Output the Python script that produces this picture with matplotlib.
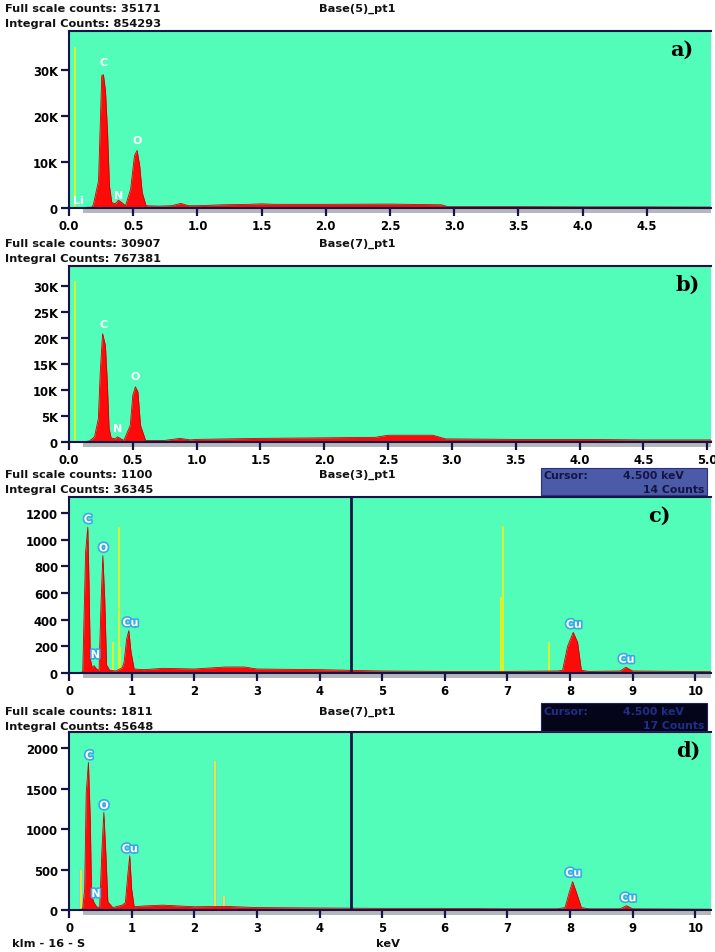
import matplotlib
matplotlib.use("Agg")
import matplotlib.pyplot as plt
import matplotlib.patheffects as pe
from matplotlib.patches import Rectangle

# ---------------------------------------------------------------------------
# DATA
# ---------------------------------------------------------------------------

a_kev = [0.0, 0.10, 0.18, 0.19, 0.23, 0.255, 0.268, 0.284, 0.30, 0.315, 0.333, 0.36,
         0.385, 0.41, 0.44, 0.48, 0.51, 0.53, 0.55, 0.57, 0.60, 0.70, 0.80, 0.87,
         0.93, 1.0, 1.2, 1.4, 1.5, 1.6, 2.0, 2.5, 2.9, 2.95, 3.5, 4.0, 4.5, 5.0]
a_counts = [0, 100, 200, 800, 5900, 28800, 29000, 25500, 16500, 4800, 1200, 900,
            1700, 1200, 500, 4100, 11400, 12500, 9300, 3400, 500, 400, 500, 1000,
            500, 500, 700, 800, 900, 800, 800, 850, 700, 300, 300, 250, 250, 200]

b_kev = [0.0, 0.12, 0.16, 0.20, 0.23, 0.245, 0.263, 0.285, 0.30, 0.314, 0.33, 0.36,
         0.38, 0.40, 0.43, 0.48, 0.50, 0.52, 0.54, 0.56, 0.60, 0.75, 0.87, 0.95,
         1.0, 1.5, 2.0, 2.4, 2.5, 2.85, 2.95, 3.5, 4.0, 4.5, 5.05]
b_counts = [0, 50, 200, 1000, 4500, 13500, 20800, 18600, 11500, 2600, 800, 600,
            1000, 700, 300, 3200, 9000, 10600, 9600, 3200, 300, 300, 700, 400,
            500, 700, 800, 900, 1300, 1300, 600, 500, 500, 400, 400]

c_kev = [0.05, 0.20, 0.22, 0.265, 0.30, 0.32, 0.34, 0.37, 0.40, 0.44, 0.48, 0.51,
         0.54, 0.57, 0.60, 0.65, 0.75, 0.85, 0.88, 0.92, 0.955, 0.99, 1.04, 1.2,
         1.5, 2.0, 2.5, 2.8, 3.0, 4.0, 5.0, 6.0, 7.0, 7.8, 7.88, 7.96, 8.05, 8.12,
         8.18, 8.3, 8.8, 8.89, 9.0, 10.25]
c_counts = [0, 0, 20, 906, 1093, 655, 105, 40, 55, 30, 20, 505,
            880, 555, 60, 20, 15, 40, 80, 255, 318, 157, 30, 25,
            35, 30, 45, 45, 30, 25, 15, 12, 12, 15, 20, 200, 305, 230,
            20, 12, 15, 43, 15, 10]

d_kev = [0.05, 0.20, 0.22, 0.25, 0.275, 0.31, 0.34, 0.36, 0.40, 0.44, 0.49, 0.525,
         0.556, 0.59, 0.62, 0.70, 0.85, 0.90, 0.94, 0.97, 1.0, 1.04, 1.2, 1.5,
         2.0, 2.5, 3.0, 4.0, 5.0, 6.0, 7.0, 7.8, 7.92, 7.98, 8.04, 8.10, 8.18,
         8.3, 8.8, 8.9, 9.0, 10.25]
d_counts = [0, 0, 30, 260, 1450, 1823, 1100, 175, 90, 40, 30, 732,
            1205, 670, 100, 30, 60, 90, 445, 670, 260, 40, 50, 60,
            40, 45, 30, 25, 20, 20, 15, 15, 30, 200, 350, 220, 30,
            15, 15, 53, 15, 10]

# element marker lines (keV, height)
a_markers = [(0.05, 35000)]
b_markers = [(0.05, 31000)]
c_markers = [(0.71, 235), (0.805, 1097), (0.82, 197), (6.93, 1100), (6.90, 570), (7.66, 235)]
d_markers = [(0.185, 494), (2.33, 1843), (2.47, 176)]

# peak labels (text, keV, counts)
a_labels = [("Li", 0.075, 1700), ("C", 0.27, 31800), ("N", 0.39, 2900), ("O", 0.53, 14700)]
b_labels = [("C", 0.27, 22700), ("N", 0.38, 2600), ("O", 0.52, 12600)]
c_labels = [("C", 0.30, 1150), ("N", 0.42, 135), ("O", 0.55, 935), ("Cu", 0.98, 375),
            ("Cu", 8.06, 362), ("Cu", 8.90, 100)]
d_labels = [("C", 0.32, 1905), ("N", 0.43, 197), ("O", 0.56, 1287), ("Cu", 0.97, 753),
            ("Cu", 8.05, 453), ("Cu", 8.93, 145)]

a_yticks = [0, 10000, 20000, 30000]
a_yticklabels = ["0", "10K", "20K", "30K"]
b_yticks = [0, 5000, 10000, 15000, 20000, 25000, 30000]
b_yticklabels = ["0", "5K", "10K", "15K", "20K", "25K", "30K"]
c_yticks = [0, 200, 400, 600, 800, 1000, 1200]
d_yticks = [0, 500, 1000, 1500, 2000]

a_xticks = [0.0, 0.5, 1.0, 1.5, 2.0, 2.5, 3.0, 3.5, 4.0, 4.5]
b_xticks = [0.0, 0.5, 1.0, 1.5, 2.0, 2.5, 3.0, 3.5, 4.0, 4.5, 5.0]
cd_xticks = [0, 1, 2, 3, 4, 5, 6, 7, 8, 9, 10]

headers = [
    ("Full scale counts: 35171", "Integral Counts: 854293", "Base(5)_pt1"),
    ("Full scale counts: 30907", "Integral Counts: 767381", "Base(7)_pt1"),
    ("Full scale counts: 1100", "Integral Counts: 36345", "Base(3)_pt1"),
    ("Full scale counts: 1811", "Integral Counts: 45648", "Base(7)_pt1"),
]
cursor_kev = 4.5

# ---------------------------------------------------------------------------
# STYLE
# ---------------------------------------------------------------------------

W, H = 715, 953
BG = "#52FDBA"
RED = "#FF0A0A"
NAVY = "#141446"
YELLOW = "#E6F020"

fig = plt.figure(figsize=(W / 100, H / 100), dpi=100)
fig.patch.set_facecolor("white")


def px_axes(left, top, right, bottom):
    return fig.add_axes([left / W, 1 - bottom / H, (right - left) / W, (bottom - top) / H])


def ftext(x, y, s, **kw):
    fig.text(x / W, 1 - y / H, s, **kw)


def draw_panel(ax, kev, counts, xlim, ylim, xticks, xticklabels, yticks, yticklabels,
               markers, labels, letter, letter_x, boxed_labels=False, outlined_markers=False,
               cursor=None):
    ax.set_facecolor(BG)
    ax.fill_between(kev, counts, 0, color=RED, lw=0, zorder=3)
    ax.plot(kev, counts, color="#D00000", lw=0.6, zorder=3)
    for e, h in markers:
        if outlined_markers:
            ax.vlines(e, 0, h, color="#8cc8f0", lw=2.6, zorder=2)
        ax.vlines(e, 0, h, color=YELLOW, lw=1.3, zorder=2)
    for s, e, h in labels:
        effects = [pe.withStroke(linewidth=2.4, foreground="#3aa8e8")] if boxed_labels else None
        ax.text(e, h, s, color="white", fontsize=8, fontweight="bold",
                ha="center", va="center", zorder=5, path_effects=effects)
    if cursor is not None:
        ax.axvline(cursor, color=NAVY, lw=2, zorder=4)
    ax.set_xlim(*xlim)
    ax.set_ylim(*ylim)
    ax.set_xticks(xticks)
    ax.set_xticklabels(xticklabels)
    ax.set_yticks(yticks)
    ax.set_yticklabels(yticklabels)
    ax.tick_params(direction="out", length=6, width=1.6, color=NAVY, labelsize=8.4,
                   labelcolor="black", pad=2)
    for lab in ax.get_xticklabels() + ax.get_yticklabels():
        lab.set_fontweight("bold")
    for side in ["left", "top", "bottom"]:
        ax.spines[side].set_color(NAVY)
        ax.spines[side].set_linewidth(1.5)
    ax.spines["right"].set_visible(False)
    ax.spines["bottom"].set_zorder(6)
    # grey shadow under the axis
    ax.add_patch(Rectangle((0.022, -0.028), 0.978, 0.028, transform=ax.transAxes,
                           facecolor="#b4b8bc", edgecolor="none", clip_on=False, zorder=1))
    ax.text(letter_x, 0.9, letter, transform=ax.transAxes, family="DejaVu Serif",
            fontsize=15, fontweight="bold", ha="center", va="center", zorder=6)


hdr_kw = dict(fontsize=8.2, fontweight="bold", va="center", color="#111111")

# panel a
ax_a = px_axes(69, 32, 711, 209)
draw_panel(ax_a, a_kev, a_counts, (0, 5.0), (0, 38500), a_xticks,
           [f"{t:.1f}" for t in a_xticks], a_yticks, a_yticklabels,
           a_markers, a_labels, "a)", 0.955)

# panel b
ax_b = px_axes(69, 267, 711, 443)
draw_panel(ax_b, b_kev, b_counts, (0, 5.03), (0, 33800), b_xticks,
           [f"{t:.1f}" for t in b_xticks], b_yticks, b_yticklabels,
           b_markers, b_labels, "b)", 0.963)

# panel c
ax_c = px_axes(69, 498, 711, 674)
draw_panel(ax_c, c_kev, c_counts, (0.05, 10.25), (0, 1320), cd_xticks,
           [str(t) for t in cd_xticks], c_yticks, [str(t) for t in c_yticks],
           c_markers, c_labels, "c)", 0.92, boxed_labels=True, cursor=cursor_kev)

# panel d
ax_d = px_axes(69, 733, 711, 911)
draw_panel(ax_d, d_kev, d_counts, (0.05, 10.25), (0, 2200), cd_xticks,
           [str(t) for t in cd_xticks], d_yticks, [str(t) for t in d_yticks],
           d_markers, d_labels, "d)", 0.965, boxed_labels=True, outlined_markers=True,
           cursor=cursor_kev)

# headers
for (full, integ, base), y0 in zip(headers, [9, 244, 475, 712]):
    ftext(5, y0, full, **hdr_kw)
    ftext(5, y0 + 15, integ, **hdr_kw)
    ftext(357, y0, base, ha="center", **hdr_kw)

# cursor read-out boxes
box_kw = dict(fontsize=7.8, fontweight="bold", va="center")
fig.patches.append(Rectangle((541 / W, 1 - 496 / H), 166 / W, 27 / H, transform=fig.transFigure,
                             facecolor="#4b5ba8", edgecolor="#30307a", lw=0.8))
ftext(544, 476, "Cursor:", color=NAVY, **box_kw)
ftext(684, 476, "4.500 keV", ha="right", color=NAVY, **box_kw)
ftext(704, 490, "14 Counts", ha="right", color=NAVY, **box_kw)

fig.patches.append(Rectangle((541 / W, 1 - 732 / H), 166 / W, 28 / H, transform=fig.transFigure,
                             facecolor="#05051a", edgecolor="#20206a", lw=0.8))
ftext(544, 712, "Cursor:", color="#1e2f8a", **box_kw)
ftext(684, 712, "4.500 keV", ha="right", color="#1e2f8a", **box_kw)
ftext(704, 726, "17 Counts", ha="right", color="#1e2f8a", **box_kw)

# bottom labels
ftext(12, 944, "klm - 16 - S", **hdr_kw)
ftext(376, 944, "keV", **hdr_kw)

fig.savefig("out.png", dpi=100, facecolor="white")
